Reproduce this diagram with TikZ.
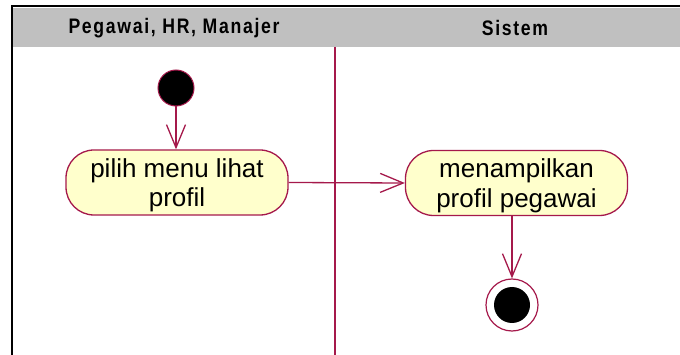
\documentclass[tikz,border=0pt]{standalone}
\usepackage{fontspec}
\setmainfont{Liberation Sans}
\usetikzlibrary{arrows.meta}

\definecolor{umlline}{RGB}{165,25,75}
\definecolor{umlfill}{RGB}{255,255,204}
\definecolor{headgray}{RGB}{192,192,192}
\newcommand{\firstline}{\rule{0pt}{24pt}}

\begin{document}
\begin{tikzpicture}[x=1pt,y=-1pt,
  lanehead/.style={font=\fontsize{21}{23}\selectfont\bfseries\addfontfeatures{FakeStretch=0.84,LetterSpace=8}, text=black, inner sep=0pt},
  activity/.style={draw=umlline, fill=umlfill, line width=1.3pt, rounded corners=28pt,
    minimum width=222pt, minimum height=65pt, inner sep=0pt, align=center,
    font=\fontsize{26}{29.5}\selectfont},
  startnode/.style={circle, draw=umlline, fill=black, line width=1pt, minimum size=36pt, inner sep=0pt},
  endouter/.style={circle, draw=umlline, fill=white, line width=1.2pt, minimum size=52pt, inner sep=0pt},
  endinner/.style={circle, fill=black, minimum size=36pt, inner sep=0pt},
  flow/.style={draw=umlline, line width=1.3pt, -{Straight Barb[length=23pt,width=19pt,line width=1.3pt]}}
]
\useasboundingbox (0,0) rectangle (680,355);
\fill[white] (0,0) rectangle (680,355);

% swimlane header band and frame
\fill[headgray] (13,8) rectangle (680,47);
\draw[black, line width=2.4pt] (12,355) -- (12,6) -- (680,6);
\node[lanehead] (laneA) at (174,28) {Pegawai, HR, Manajer};
\node[lanehead] (laneB) at (515,28) {Sistem};

% lane divider
\coordinate (divtop) at (335,47);
\coordinate (divbot) at (335,355);
\draw[umlline, line width=1.3pt] (divtop) -- (divbot);

% activities
\node[startnode] (start) at (176,88) {};
\node[activity] (pilih) at (177,182.5) {\firstline pilih menu lihat\\profil};
\node[activity] (tampil) at (516.5,183) {\firstline menampilkan\\profil pegawai};
\node[endouter] (endo) at (512,305) {};
\node[endinner] (endi) at (512,305) {};

% control flows
\draw[flow] (start.south) -- (start.south |- pilih.north);
\draw[flow] (pilih.east) -- (tampil.west);
\draw[flow] (tampil.south -| endo.north) -- (endo.north);
\end{tikzpicture}
\end{document}
